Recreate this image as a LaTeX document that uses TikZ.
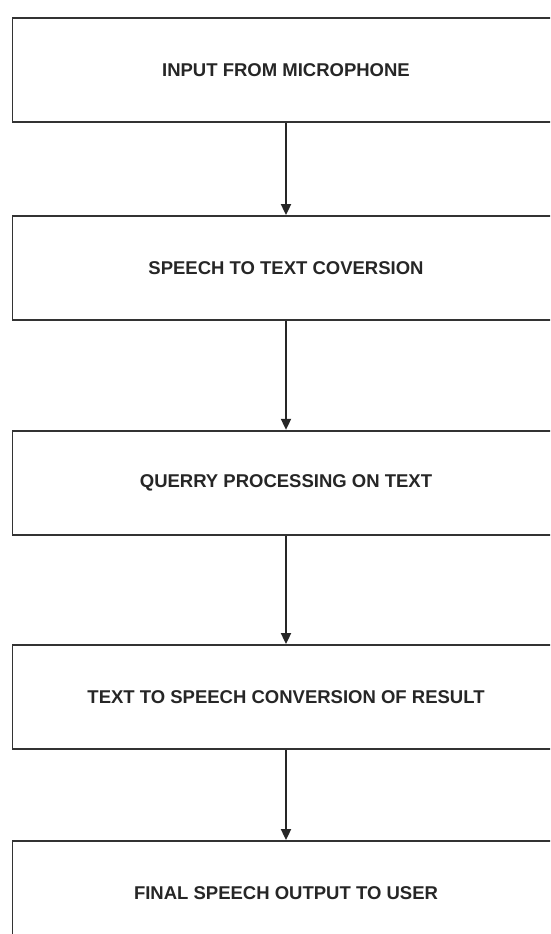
\documentclass[tikz,border=0pt]{standalone}
\usepackage{fontspec}
\setmainfont{Liberation Sans}
\usetikzlibrary{arrows.meta}
\begin{document}
\begin{tikzpicture}[x=1pt,y=-1pt,>={Triangle[width=10pt,length=11pt]},
            line width=1.8pt,font=\fontsize{18.5}{22}\selectfont\bfseries,
            stage/.style={draw=black!80,text=black!85,minimum width=547pt,minimum height=104pt,inner sep=0pt}]
            \useasboundingbox (0,0) rectangle (550,934);
            \clip (0,0) rectangle (550,934);
            \node[stage] (mic) at (286,69.75) {INPUT FROM MICROPHONE};
            \node[stage] (stt) at (286,268) {SPEECH TO TEXT COVERSION};
            \node[stage] (query) at (286,482.75) {QUERRY PROCESSING ON TEXT};
            \node[stage] (tts) at (286,697) {TEXT TO SPEECH CONVERSION OF RESULT};
            \node[stage] (out) at (286,893) {FINAL SPEECH OUTPUT TO USER};
            \draw[->,black!85] (mic)--(stt);
            \draw[->,black!85] (stt)--(query);
            \draw[->,black!85] (query)--(tts);
            \draw[->,black!85] (tts)--(out);
        \end{tikzpicture}
\end{document}
